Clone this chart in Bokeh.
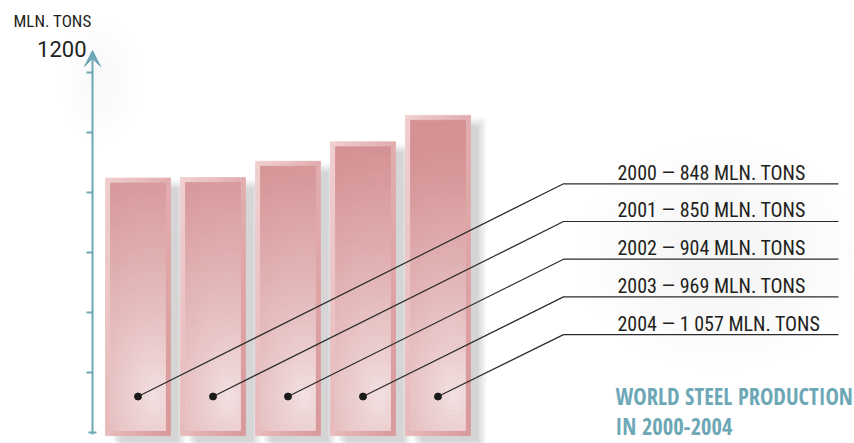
import numpy as np
from bokeh.plotting import figure
from bokeh.models import Range1d, Arrow, VeeHead
from bokeh.core.properties import value
from bokeh.embed import file_html
from bokeh.resources import INLINE

# ---- data ----
years = [2000, 2001, 2002, 2003, 2004]
production = [848, 850, 904, 969, 1057]
y_ticks = [0, 200, 400, 600, 800, 1000, 1200]
unit_label = "MLN. TONS"
top_tick_label = "1200"
title_lines = ["WORLD STEEL PRODUCTION", "IN 2000-2004"]

# ---- layout (screen pixels) ----
W, H = 854, 443
X0, XSTEP = 137.5, 75.0      # first bar centre, bar spacing
Y0, YSCALE = 432.0, 0.3      # baseline pixel row, px per unit

def px_x(px):
    return (px - X0) / XSTEP

def px_y(py):
    return (Y0 - py) / YSCALE

DX = 1.0 / XSTEP
DY = 1.0 / YSCALE

TEAL = "#6ea7b6"
INK = "#231f20"
COND = "Roboto Condensed"
TITLE_FONT = "Open Sans Condensed"

def base(py, size):
    # y for text_baseline="bottom" so that the alphabetic baseline sits at py
    return px_y(py + 0.22 * size)

p = figure(width=W, height=H, output_backend="svg", toolbar_location=None,
           x_range=Range1d(px_x(0), px_x(W)), y_range=Range1d(px_y(H), px_y(0)),
           x_axis_location=None, y_axis_location=None, min_border=0,
           outline_line_color=None, background_fill_color="white",
           border_fill_color="white")
p.grid.visible = False

# soft grey blurs behind labels and axis top
for r in np.linspace(120, 40, 9):
    p.ellipse(x=px_x(720), y=px_y(255), width=2 * r * 1.2 * DX, height=2 * r * 0.95 * DY,
              fill_color="#9a9a9a", fill_alpha=0.008, line_color=None)
for r in np.linspace(40, 10, 6):
    p.ellipse(x=px_x(100), y=px_y(80), width=2 * r * DX, height=2 * r * 1.6 * DY,
              fill_color="#9a9a9a", fill_alpha=0.012, line_color=None)

HALF = 32.5          # bar half width, px
BOT = 3.0            # outer bar extends below baseline, px
INSET = 5.0          # bevel width, px

# shadows
for i, v in enumerate(production):
    for e, a in [(8, 0.05), (6, 0.06), (4, 0.07), (2, 0.08), (0, 0.09)]:
        p.quad(left=i - (HALF - 8 - e) * DX, right=i + (HALF + 8 + e) * DX,
               top=v - (10 - e) * DY, bottom=-(BOT + 6 + e) * DY,
               fill_color="#7a7a7a", fill_alpha=a, line_color=None)

def lerp(c1, c2, t):
    t = float(np.clip(t, 0, 1))
    return "#%02x%02x%02x" % tuple(int(round(a + (b - a) * t)) for a, b in zip(c1, c2))

LIGHT = (243, 226, 227)
DARK = (213, 146, 148)
F_LIGHT = (243, 214, 214)
F_DARK = (218, 154, 156)

for i, v in enumerate(production):
    l, r = i - HALF * DX, i + HALF * DX
    t, b = v, -BOT * DY
    h_px = (t - b) / DY
    w_px = 2 * HALF
    L, R, T, B, C = [], [], [], [], []
    ny = int(np.ceil(h_px / 6))
    nx = 13
    for yi in range(ny):
        for xi in range(nx):
            u = (xi + 0.5) / nx
            vv = (yi + 0.5) / ny
            s = 0.6 * u + 0.35 * vv + 0.1
            L.append(l + xi * w_px / nx * DX)
            R.append(l + (xi + 1) * w_px / nx * DX)
            T.append(t - yi * h_px / ny * DY)
            B.append(t - (yi + 1) * h_px / ny * DY)
            C.append(lerp(F_LIGHT, F_DARK, s))
    p.quad(left=L, right=R, top=T, bottom=B, fill_color=C, line_color=C, line_width=0.8)
    il, ir = l + INSET * DX, r - INSET * DX
    it, ib = t - INSET * DY, b + INSET * DY
    ih = (it - ib) / DY
    iw = (ir - il) / DX
    cx, cy = 0.8 * iw, ih - 35
    L, R, T, B, C = [], [], [], [], []
    ny = int(np.ceil(ih / 5))
    nx = 11
    for yi in range(ny):
        for xi in range(nx):
            u = (xi + 0.5) * iw / nx
            vv = (yi + 0.5) * ih / ny
            d = np.hypot((u - cx) * 1.5, (vv - cy) * 0.85)
            L.append(il + xi * iw / nx * DX)
            R.append(il + (xi + 1) * iw / nx * DX)
            T.append(it - yi * ih / ny * DY)
            B.append(it - (yi + 1) * ih / ny * DY)
            C.append(lerp(LIGHT, DARK, (d / 210) ** 0.8))
    p.quad(left=L, right=R, top=T, bottom=B, fill_color=C, line_color=C, line_width=0.8)

# axis with arrow and ticks
AX = 92
p.add_layout(Arrow(x_start=px_x(AX), y_start=px_y(434), x_end=px_x(AX), y_end=px_y(50),
                   line_color=TEAL, line_width=2,
                   end=VeeHead(size=16, fill_color=TEAL, line_color=TEAL, line_width=1)))
tick_vals = [tv for tv in y_ticks if tv != 0]
p.segment(x0=[px_x(86)] * len(tick_vals), x1=[px_x(AX)] * len(tick_vals),
          y0=tick_vals, y1=tick_vals, line_color=TEAL, line_width=2)
p.segment(x0=[px_x(88)], x1=[px_x(96)], y0=[y_ticks[0]], y1=[y_ticks[0]],
          line_color=TEAL, line_width=2)

p.text(x=[px_x(13)], y=[base(27, 17)], text=[unit_label], text_font=value(COND),
       text_font_size="17px", text_color=INK, text_baseline="bottom")
p.text(x=[px_x(86)], y=[base(52, 22)], text=[top_tick_label],
       text_font=value("Roboto"), text_font_size="22px", text_color=INK,
       text_align="right", text_baseline="bottom")

# leader lines and labels
ROW0, ROWSTEP = 183.3, 37.7
DOT_PY = 396
JOIN_PX, END_PX, TEXT_PX = 563, 838, 617
LBL = 20
xs, ys, texts, ty = [], [], [], []
for k, (yr, v) in enumerate(zip(years, production)):
    row = ROW0 + k * ROWSTEP
    xs.append([k, px_x(JOIN_PX), px_x(END_PX)])
    ys.append([px_y(DOT_PY), px_y(row), px_y(row)])
    vs = f"{v:,}".replace(",", " ")
    texts.append(f"{yr} \u2014 {vs} {unit_label}")
    ty.append(base(row - 3.5, LBL))
p.multi_line(xs=xs, ys=ys, line_color="#2b2b2b", line_width=1.2)
p.scatter(x=list(range(len(years))), y=[px_y(DOT_PY)] * len(years), size=7,
          fill_color="#1a1a1a", line_color="#1a1a1a")
p.text(x=[px_x(TEXT_PX)] * len(texts), y=ty, text=texts, text_font=value(COND),
       text_font_size=f"{LBL}px", text_color=INK, text_baseline="bottom")

# title
TS = 22.5
p.text(x=[px_x(615)] * 2, y=[base(406.5, TS), base(436.5, TS)], text=title_lines,
       text_font=value(TITLE_FONT), text_font_style="bold", text_font_size=f"{TS}px",
       text_color=TEAL, text_baseline="bottom")

open("out.html", "w").write(file_html(p, INLINE))
